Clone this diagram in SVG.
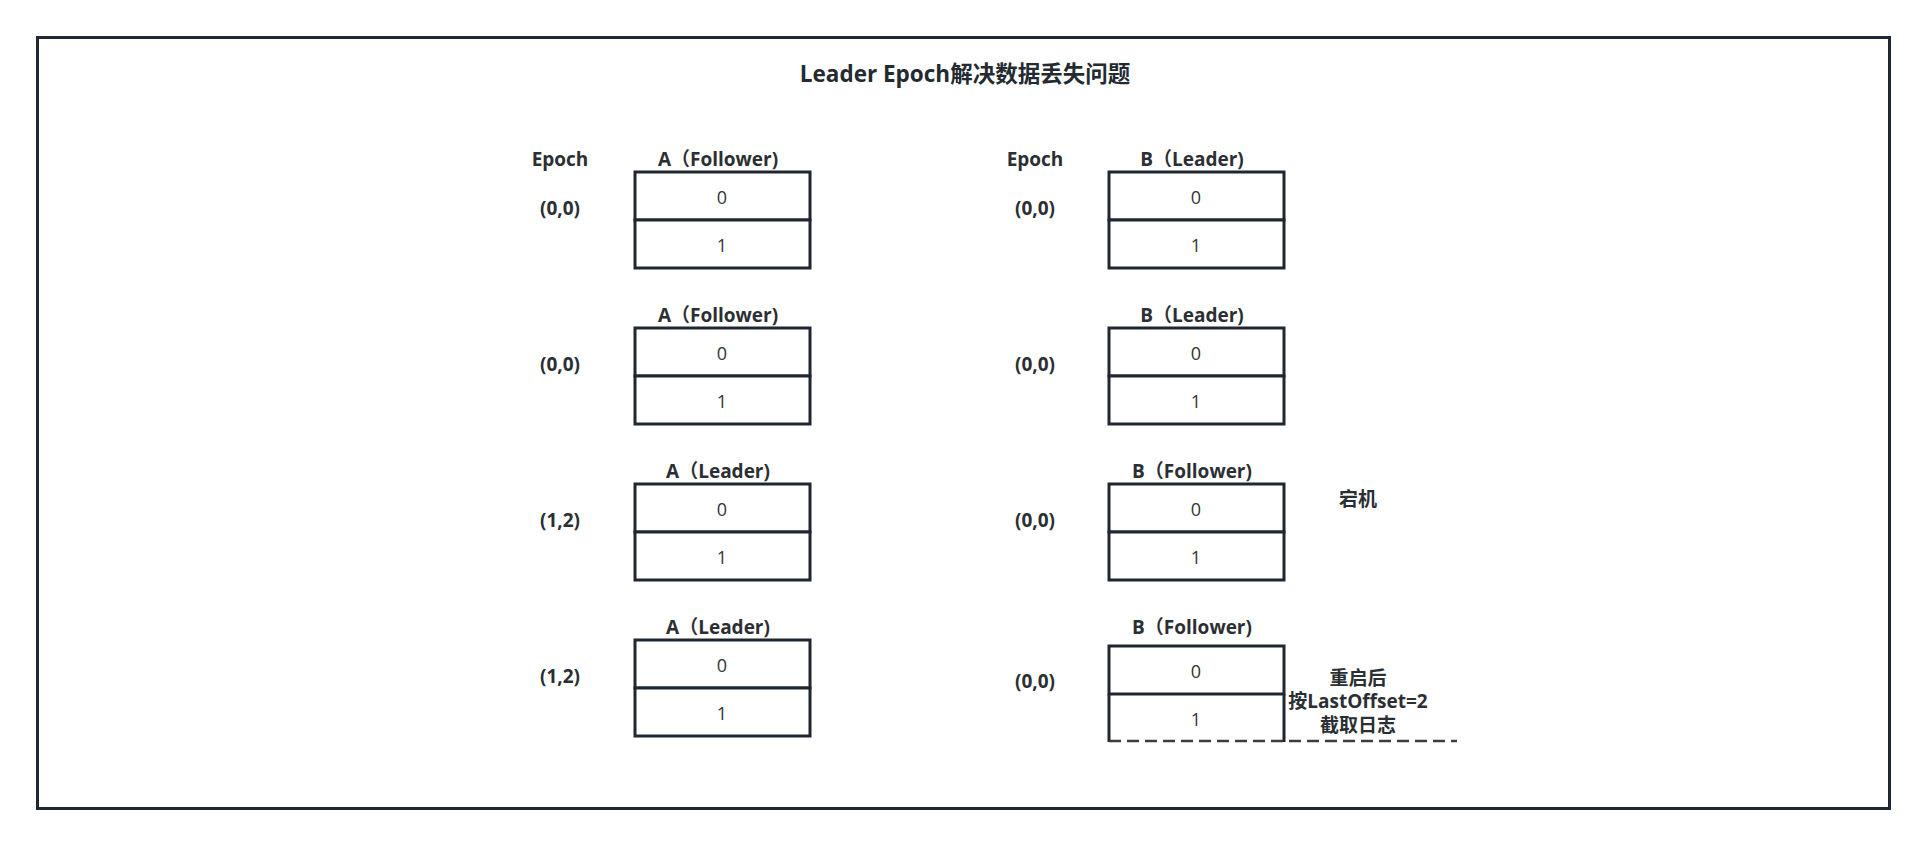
<svg xmlns="http://www.w3.org/2000/svg" width="1927" height="846" viewBox="0 0 1927 846">
<style>
.frame{fill:#fff;stroke:#1f2730;stroke-width:3}
.cell{fill:#fff;stroke:#1f2730;stroke-width:3}
.lbl{font-family:"Open Sans","Noto Sans","Noto Sans CJK SC",sans-serif;font-weight:bold;font-size:19px;fill:#2b2f33;text-anchor:middle}
.title{font-family:"Open Sans","Noto Sans","Noto Sans CJK SC",sans-serif;font-weight:bold;font-size:22.5px;fill:#232a31;text-anchor:middle}
.num{font-family:"Open Sans","Noto Sans",sans-serif;font-weight:normal;font-size:18px;fill:#333;text-anchor:middle}
.dash{stroke:#3c3c3c;stroke-width:2.5;stroke-dasharray:12 6;fill:none}
</style>
<rect width="1927" height="846" fill="#fff"/>
<rect class="frame" x="37.5" y="37.5" width="1852" height="771"/>
<text class="title" x="965" y="82">Leader Epoch解决数据丢失问题</text>

<g id="headers">
<text class="lbl" x="560" y="166">Epoch</text>
<text class="lbl" x="1035" y="166">Epoch</text>
</g>

<g id="a1">
<text class="lbl" x="718" y="166">A（Follower)</text>
<text class="lbl" x="560" y="215">(0,0)</text>
<rect class="cell" x="635" y="172" width="175" height="48"/>
<rect class="cell" x="635" y="220" width="175" height="48"/>
<text class="num" x="722" y="204">0</text>
<text class="num" x="722" y="252">1</text>
</g>
<g id="b1">
<text class="lbl" x="1192" y="166">B（Leader)</text>
<text class="lbl" x="1035" y="215">(0,0)</text>
<rect class="cell" x="1109" y="172" width="175" height="48"/>
<rect class="cell" x="1109" y="220" width="175" height="48"/>
<text class="num" x="1196" y="204">0</text>
<text class="num" x="1196" y="252">1</text>
</g>

<g id="a2">
<text class="lbl" x="718" y="322">A（Follower)</text>
<text class="lbl" x="560" y="371">(0,0)</text>
<rect class="cell" x="635" y="328" width="175" height="48"/>
<rect class="cell" x="635" y="376" width="175" height="48"/>
<text class="num" x="722" y="360">0</text>
<text class="num" x="722" y="408">1</text>
</g>
<g id="b2">
<text class="lbl" x="1192" y="322">B（Leader)</text>
<text class="lbl" x="1035" y="371">(0,0)</text>
<rect class="cell" x="1109" y="328" width="175" height="48"/>
<rect class="cell" x="1109" y="376" width="175" height="48"/>
<text class="num" x="1196" y="360">0</text>
<text class="num" x="1196" y="408">1</text>
</g>

<g id="a3">
<text class="lbl" x="718" y="478">A（Leader)</text>
<text class="lbl" x="560" y="527">(1,2)</text>
<rect class="cell" x="635" y="484" width="175" height="48"/>
<rect class="cell" x="635" y="532" width="175" height="48"/>
<text class="num" x="722" y="516">0</text>
<text class="num" x="722" y="564">1</text>
</g>
<g id="b3">
<text class="lbl" x="1192" y="478">B（Follower)</text>
<text class="lbl" x="1035" y="527">(0,0)</text>
<rect class="cell" x="1109" y="484" width="175" height="48"/>
<rect class="cell" x="1109" y="532" width="175" height="48"/>
<text class="num" x="1196" y="516">0</text>
<text class="num" x="1196" y="564">1</text>
</g>
<g id="note1">
<text class="lbl" x="1358" y="506">宕机</text>
</g>

<g id="a4">
<text class="lbl" x="718" y="634">A（Leader)</text>
<text class="lbl" x="560" y="683">(1,2)</text>
<rect class="cell" x="635" y="640" width="175" height="48"/>
<rect class="cell" x="635" y="688" width="175" height="48"/>
<text class="num" x="722" y="672">0</text>
<text class="num" x="722" y="720">1</text>
</g>
<g id="b4">
<text class="lbl" x="1192" y="634">B（Follower)</text>
<text class="lbl" x="1035" y="688">(0,0)</text>
<rect class="cell" x="1109" y="646" width="175" height="48"/>
<path class="cell" d="M1109 694 V742 M1284 694 V742"/>
<text class="num" x="1196" y="678">0</text>
<text class="num" x="1196" y="726">1</text>
</g>
<g id="note2">
<text class="lbl" x="1358" y="685">重启后</text>
<text class="lbl" x="1358" y="708">按LastOffset=2</text>
<text class="lbl" x="1358" y="732">截取日志</text>
</g>

<g id="connectors">
<line class="dash" x1="1109" y1="741" x2="1457" y2="741"/>
</g>
</svg>
